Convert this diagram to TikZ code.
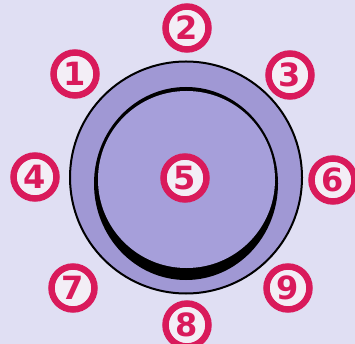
\documentclass[tikz,border=0pt]{standalone}
\usepackage{fontspec}
\newfontfamily\badgefont{DejaVu Sans}
\definecolor{bgc}{HTML}{E0DFF3}
\definecolor{disc}{HTML}{A098D4}
\definecolor{innerc}{HTML}{A69FDA}
\definecolor{badgec}{HTML}{D91A5B}
\definecolor{badgefill}{HTML}{F3EEF6}
\tikzset{
  badge/.style={circle, draw=badgec, line width=6.5pt, fill=badgefill,
    minimum size=43pt, inner sep=0pt, text=badgec,
    font=\badgefont\bfseries\fontsize{32}{32}\selectfont}
}
\begin{document}
\begin{tikzpicture}[x=1pt,y=-1pt]
\fill[bgc] (0,0) rectangle (355,344);
\useasboundingbox (0,0) rectangle (355,344);
% outer disc
\filldraw[fill=disc, draw=black, line width=2pt] (186,177.5) circle (116);
% black crescent ring
\fill[black] (186,183.5) ellipse [x radius=92, y radius=96.5];
\fill[innerc] (186.5,179.5) circle (88.5);
% badges
\node[badge] (n1) at (75,74) {1};
\node[badge] (n2) at (187,28) {2};
\node[badge] (n3) at (290,75) {3};
\node[badge] (n4) at (35,177) {4};
\node[badge] (n5) at (185,178) {5};
\node[badge] (n6) at (333,180) {6};
\node[badge] (n7) at (73,288) {7};
\node[badge] (n8) at (187,325) {8};
\node[badge] (n9) at (288,288) {9};
\end{tikzpicture}
\end{document}
